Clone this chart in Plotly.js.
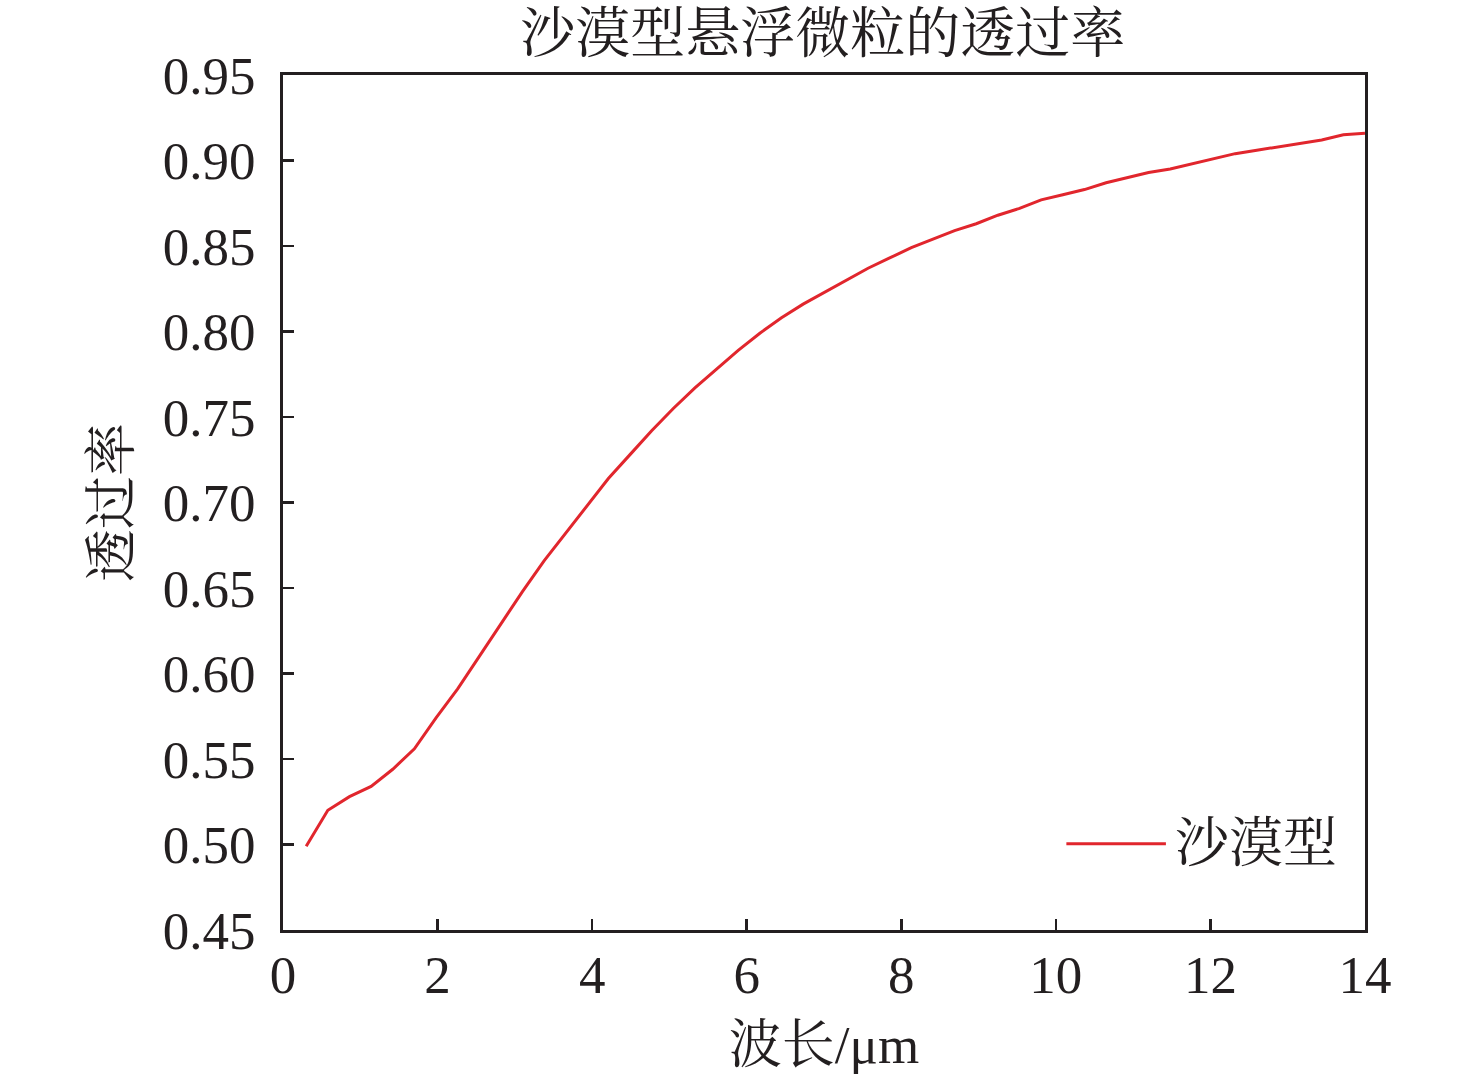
<!DOCTYPE html>
<html>
<head>
<meta charset="utf-8">
<script src="https://cdn.plot.ly/plotly-3.0.1.min.js"></script>
<style>
  html, body { margin: 0; padding: 0; background: #fff; }
  #chart { width: 1476px; height: 1085px; }
</style>
</head>
<body>
<div id="chart"></div>
<script>
// wavelength (µm) and transmittance
const wavelength = [0.30, 0.58, 0.86, 1.14, 1.42, 1.70, 1.98, 2.26, 2.54, 2.82,
  3.10, 3.38, 3.66, 3.94, 4.21, 4.49, 4.77, 5.05, 5.33, 5.61,
  5.89, 6.17, 6.45, 6.73, 7.01, 7.29, 7.57, 7.85, 8.13, 8.41,
  8.69, 8.97, 9.25, 9.53, 9.81, 10.09, 10.37, 10.65, 10.92, 11.20,
  11.48, 11.76, 12.04, 12.32, 12.60, 12.88, 13.16, 13.44, 13.72, 14.00];
const transmittance = [0.499, 0.520, 0.528, 0.534, 0.544, 0.556, 0.574, 0.591, 0.610, 0.629,
  0.648, 0.666, 0.682, 0.698, 0.714, 0.728, 0.742, 0.755, 0.767, 0.778,
  0.789, 0.799, 0.808, 0.816, 0.823, 0.830, 0.837, 0.843, 0.849, 0.854,
  0.859, 0.863, 0.868, 0.872, 0.877, 0.880, 0.883, 0.887, 0.890, 0.893,
  0.895, 0.898, 0.901, 0.904, 0.906, 0.908, 0.910, 0.912, 0.915, 0.916];
const seriesName = "沙漠型";
const xTicks = [0, 2, 4, 6, 8, 10, 12, 14];
const yTicks = [0.45, 0.50, 0.55, 0.60, 0.65, 0.70, 0.75, 0.80, 0.85, 0.90, 0.95];

const fontFam = "'Liberation Serif', 'Noto Serif CJK SC', 'Noto Sans CJK SC', serif";
const ink = "#231f20";
const red = "#e1262d";

const desert = {
  x: wavelength,
  y: transmittance,
  type: "scatter",
  mode: "lines",
  line: { color: red, width: 3 },
  name: seriesName,
  showlegend: false,
};

const layout = {
  width: 1476,
  height: 1085,
  margin: { t: 75, l: 283, r: 111, b: 155 },
  paper_bgcolor: "#fff",
  plot_bgcolor: "#fff",
  font: { family: fontFam, color: ink, size: 53 },
  title: {
    text: "沙漠型悬浮微粒的透过率",
    font: { family: fontFam, size: 55, color: ink },
    x: 0.5575, xanchor: "center",
    y: 0.970, yanchor: "middle",
  },
  xaxis: {
    range: [0, 14],
    tickvals: xTicks,
    ticktext: xTicks.map(String),
    ticks: "inside",
    ticklen: 11,
    tickwidth: 2.5,
    tickcolor: ink,
    showline: true,
    mirror: true,
    linecolor: ink,
    linewidth: 3,
    showgrid: false,
    zeroline: false,
    ticklabelstandoff: -4,
    tickfont: { size: 53 },
    title: { text: "波长/μm", font: { size: 53 }, standoff: 24 },
  },
  yaxis: {
    range: [0.45, 0.95],
    tickvals: yTicks,
    ticktext: yTicks.map(v => v.toFixed(2)),
    ticks: "inside",
    ticklen: 11,
    tickwidth: 2.5,
    tickcolor: ink,
    showline: true,
    mirror: true,
    linecolor: ink,
    linewidth: 3,
    showgrid: false,
    zeroline: false,
    ticklabelstandoff: 14,
    tickfont: { size: 53 },
    title: { text: "透过率", font: { size: 53 }, standoff: 16 },
  },
  shapes: [{
    type: "line", xref: "paper", yref: "paper",
    x0: 0.724, x1: 0.816, y0: 0.101, y1: 0.101,
    line: { color: red, width: 3 },
  }],
  annotations: [{
    text: seriesName, xref: "paper", yref: "paper",
    x: 0.823, y: 0.101, xanchor: "left", yanchor: "middle",
    showarrow: false,
    font: { family: fontFam, size: 54, color: ink },
  }],
};

Plotly.newPlot("chart", [desert], layout, { displayModeBar: false, staticPlot: true });
</script>
</body>
</html>
